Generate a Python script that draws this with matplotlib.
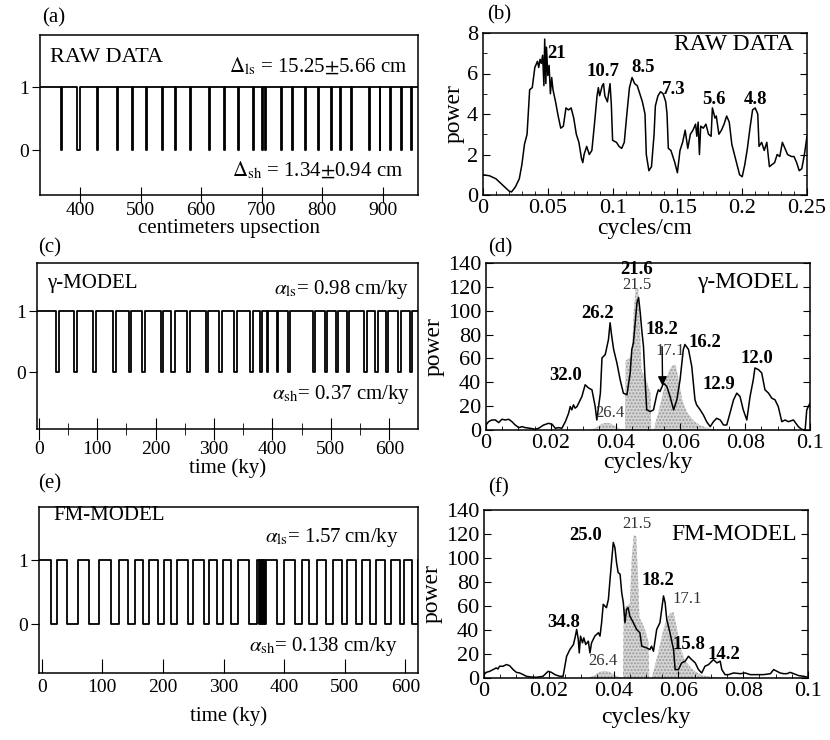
import matplotlib
matplotlib.use("Agg")
import matplotlib.pyplot as plt
from matplotlib.ticker import MultipleLocator

plt.rcParams['font.family'] = ['Liberation Serif', 'DejaVu Serif']
plt.rcParams['mathtext.fontset'] = 'stix'

# ---- (a) raw data: shale bands (start, end) in cm ----
raw_dip_start = [369, 394.5, 428, 461, 486.5, 509.5, 535, 557.5, 582, 613, 637.5, 660.5, 685.5,
                 701, 706, 732.5, 750.5, 771, 792.5, 814, 830, 848, 876.5, 894.5, 912, 930.5, 947]
raw_dip_end = [370.5, 400, 429.5, 463, 488, 511, 536.5, 559, 583.5, 614.5, 639, 662, 687,
               702.5, 707.5, 734, 752, 772.5, 794, 815.5, 831.5, 849.5, 878, 896, 913.5, 932, 948.5]

# ---- (c) gamma model: shale intervals in ky ----
gam_dip_start = [29, 60, 92, 127, 154.5, 177, 209, 227, 254.5, 286, 308.5, 334.5, 361.5, 378.5,
                 390, 407, 427, 469.5, 489.5, 508.5, 527, 557, 575, 594, 614, 635.5]
gam_dip_end = [35, 65.5, 97.5, 133, 157.5, 181.5, 212, 233, 259, 290, 313, 340, 367, 382.5,
               392.5, 410, 430, 472.5, 494, 512.5, 531, 561, 581, 598, 620, 638.5]

# ---- (e) FM model: shale intervals in ky ----
fm_dip_start = [15, 41.5, 78, 114.5, 142.5, 167, 191.5, 214, 241, 268, 289.5, 312, 342,
                359, 362.5, 365.5, 369, 389, 418, 441, 468.5, 495, 518.5, 541.5, 566.5, 591.5, 610.5]
fm_dip_end = [25, 59.5, 94.5, 127.5, 154, 177, 202, 224, 250, 276, 299.5, 324.5, 356,
              360.5, 364, 367.5, 370.5, 400, 429.5, 455, 480.5, 504.5, 528.5, 551.5, 576.5, 598.5, 620.5]

# ---- (b) raw data spectrum ----
b_freq = [0.000, 0.005, 0.010, 0.015, 0.020, 0.022, 0.025, 0.028, 0.030, 0.032, 0.034, 0.036,
          0.038, 0.040, 0.042, 0.043, 0.044, 0.045, 0.046, 0.047, 0.0476, 0.0485, 0.049, 0.050,
          0.051, 0.052, 0.053, 0.054, 0.056, 0.058, 0.060, 0.062, 0.064, 0.066, 0.068, 0.070,
          0.072, 0.074, 0.076, 0.077, 0.078, 0.080, 0.082, 0.084, 0.086, 0.088, 0.089, 0.090,
          0.092, 0.093, 0.094, 0.096, 0.098, 0.099, 0.100, 0.103, 0.105, 0.107, 0.109, 0.111,
          0.113, 0.115, 0.117, 0.119, 0.121, 0.123, 0.125, 0.126, 0.128, 0.130, 0.132, 0.133,
          0.135, 0.137, 0.139, 0.141, 0.142, 0.143, 0.145, 0.148, 0.150, 0.152, 0.154, 0.156,
          0.158, 0.160, 0.162, 0.164, 0.165, 0.166, 0.167, 0.168, 0.170, 0.172, 0.174, 0.176,
          0.177, 0.179, 0.180, 0.182, 0.184, 0.186, 0.188, 0.190, 0.192, 0.194, 0.196, 0.198,
          0.200, 0.202, 0.204, 0.206, 0.208, 0.210, 0.212, 0.213, 0.215, 0.217, 0.219, 0.221,
          0.223, 0.225, 0.227, 0.229, 0.231, 0.233, 0.235, 0.238, 0.240, 0.242, 0.244, 0.246,
          0.248, 0.250]
b_pow = [1.0, 0.95, 0.8, 0.5, 0.2, 0.15, 0.4, 0.8, 1.5, 2.5, 3.0, 5.2,
         5.3, 6.3, 6.6, 6.3, 6.7, 6.5, 6.9, 5.4, 7.7, 5.5, 7.3, 5.9,
         6.4, 5.0, 5.8, 5.2, 4.6, 3.9, 3.3, 3.4, 4.3, 4.2, 4.3, 3.8,
         3.0, 2.6, 1.8, 1.6, 2.0, 2.4, 2.0, 2.2, 3.5, 4.9, 5.3, 4.9,
         5.4, 5.5, 4.9, 4.6, 5.5, 4.5, 2.7, 2.6, 2.4, 2.3, 2.6, 4.0,
         5.3, 5.8, 5.5, 5.4, 5.0, 4.6, 4.0, 2.0, 1.2, 1.4, 3.0, 4.4,
         4.9, 5.1, 5.0, 4.6, 4.0, 2.3, 2.2, 1.6, 1.1, 2.2, 2.6, 3.2,
         2.3, 3.0, 3.2, 3.5, 2.9, 3.6, 2.0, 3.4, 3.3, 3.5, 3.0, 2.9,
         4.3, 3.8, 3.9, 3.0, 3.2, 3.5, 3.9, 3.6, 2.5, 2.0, 1.5, 1.0,
         0.9, 1.5, 2.3, 3.3, 4.2, 4.3, 4.0, 2.4, 2.6, 2.2, 2.6, 1.4,
         1.5, 1.6, 2.0, 1.9, 2.6, 2.3, 2.0, 1.9, 1.9, 1.6, 1.2, 1.3,
         2.0, 2.9]

# ---- (d) gamma model spectrum ----
d_freq = [0.0, 0.0008, 0.0018, 0.0029, 0.0039, 0.0049, 0.006, 0.007, 0.008, 0.009, 0.0101, 0.0111,
          0.0121, 0.0137, 0.0152, 0.0162, 0.0178, 0.0193, 0.0204, 0.0214, 0.0224, 0.0234, 0.0245, 0.0255,
          0.026, 0.0265, 0.027, 0.0275, 0.0281, 0.0286, 0.0296, 0.0306, 0.0317, 0.0327, 0.0337, 0.0342,
          0.0353, 0.0358, 0.0368, 0.0378, 0.0383, 0.0388, 0.0394, 0.0404, 0.0414, 0.0424, 0.0435, 0.0445,
          0.045, 0.0455, 0.0466, 0.0471, 0.0476, 0.0481, 0.0486, 0.0491, 0.0496, 0.0507, 0.0517, 0.0527,
          0.0532, 0.0537, 0.0548, 0.0558, 0.0568, 0.0579, 0.0589, 0.0599, 0.0609, 0.0614, 0.0625, 0.0635,
          0.0645, 0.065, 0.0661, 0.0671, 0.0681, 0.0692, 0.0702, 0.0712, 0.0723, 0.0733, 0.0743, 0.0753,
          0.0764, 0.0774, 0.0784, 0.0794, 0.0805, 0.0815, 0.0825, 0.083, 0.0841, 0.0851, 0.0861, 0.0872,
          0.0882, 0.0892, 0.0902, 0.0913, 0.0923, 0.0933, 0.0949, 0.0964, 0.0974, 0.0985, 0.099, 0.1]
d_pow = [4.2, 7.0, 8.4, 8.4, 6.2, 9.0, 8.4, 9.0, 7.0, 4.2, 2.0, 2.8,
         2.0, 1.4, 0.6, 1.4, 4.2, 5.6, 4.8, 1.4, 2.0, 1.4, 7.0, 14.1,
         19.7, 16.9, 21.1, 18.3, 19.7, 22.5, 28.1, 37.9, 35.1, 33.7, 19.7, 8.4,
         30.9, 60.4, 63.2, 75.9, 89.9, 78.7, 67.5, 56.2, 42.2, 30.9, 29.5, 47.8,
         67.5, 73.1, 106.8, 111.0, 98.4, 82.9, 70.3, 42.2, 16.9, 15.5, 16.9, 29.5,
         33.7, 32.3, 39.3, 36.5, 28.1, 16.9, 25.3, 42.2, 67.5, 71.7, 67.5, 53.4,
         25.3, 21.1, 16.9, 12.6, 7.0, 2.8, 7.0, 9.8, 8.4, 4.2, 4.2, 14.1,
         25.3, 30.9, 28.1, 16.9, 8.4, 28.1, 42.2, 52.0, 50.6, 47.8, 33.7, 30.9,
         26.7, 25.3, 19.7, 7.0, 8.4, 7.0, 8.4, 2.8, 0.6, 0.0, 16.9, 22.5]

# ---- (f) FM model spectrum ----
f_freq = [0.0, 0.0007, 0.0018, 0.0028, 0.0038, 0.0043, 0.0048, 0.0059, 0.0069, 0.0079, 0.009, 0.01,
          0.011, 0.0121, 0.0131, 0.0146, 0.0162, 0.0182, 0.0198, 0.0208, 0.0219, 0.0234, 0.0244, 0.0255,
          0.0265, 0.0276, 0.0281, 0.0286, 0.0291, 0.0294, 0.0298, 0.0304, 0.0308, 0.0314, 0.0322, 0.0327,
          0.0332, 0.0342, 0.0353, 0.0358, 0.0363, 0.0368, 0.0378, 0.0384, 0.0389, 0.0394, 0.0399, 0.0404,
          0.0409, 0.0414, 0.042, 0.0425, 0.043, 0.0435, 0.044, 0.0445, 0.045, 0.0461, 0.0471, 0.0481,
          0.0487, 0.0502, 0.0512, 0.0517, 0.0523, 0.0533, 0.0543, 0.0554, 0.0559, 0.0564, 0.0574, 0.0585,
          0.059, 0.06, 0.061, 0.0621, 0.0631, 0.0641, 0.0652, 0.0662, 0.0672, 0.0682, 0.0693, 0.0708,
          0.0719, 0.0729, 0.0734, 0.0744, 0.0755, 0.077, 0.0791, 0.0806, 0.0822, 0.0842, 0.0863, 0.0884,
          0.0894, 0.0904, 0.0914, 0.0925, 0.0935, 0.0945, 0.0956, 0.0971, 0.0987, 0.1]
f_pow = [2.8, 4.7, 5.6, 7.0, 8.4, 7.5, 9.8, 9.8, 11.2, 10.3, 7.0, 4.7,
         4.2, 2.8, 1.4, 0.8, 0.6, 1.4, 5.6, 4.7, 2.8, 1.4, 1.4, 18.1,
         23.7, 27.9, 33.5, 40.5, 32.1, 20.9, 34.9, 29.3, 33.5, 27.9, 30.7, 20.9,
         29.3, 34.9, 37.7, 34.9, 46.1, 61.4, 58.6, 65.6, 82.3, 97.7, 113.0, 108.8,
         96.3, 87.9, 86.5, 71.2, 62.8, 46.1, 57.2, 58.6, 51.6, 46.1, 40.5, 37.7,
         26.5, 25.1, 23.7, 26.5, 22.3, 40.5, 46.1, 68.4, 62.8, 48.8, 37.7, 23.7,
         7.0, 7.0, 12.6, 14.0, 18.1, 15.3, 12.6, 7.0, 4.2, 9.8, 11.2, 15.3,
         12.6, 14.0, 7.0, 2.8, 2.8, 4.2, 3.6, 4.2, 2.8, 2.8, 2.8, 3.6,
         7.0, 5.6, 4.2, 3.6, 3.6, 4.7, 3.6, 2.0, 1.4, 0.6]

# ---- orbital (insolation) reference spectrum, shaded in (d) and (f) ----
orb_freq = [0.0320, 0.0340, 0.0355, 0.0370, 0.0385, 0.0400, 0.0415, 0.0429, 0.0431, 0.0440, 0.0450,
            0.0456, 0.0462, 0.0470, 0.0476, 0.0480, 0.0490, 0.0500, 0.0508, 0.0510, 0.0518, 0.0525,
            0.0535, 0.0545, 0.0555, 0.0565, 0.0575, 0.0585, 0.0595, 0.0605, 0.0620, 0.0640, 0.0660,
            0.0680, 0.0700, 0.0730, 0.0760]
orb_pow = [0, 2, 5, 6, 5.5, 3, 1, 0, 58, 60, 62,
           100, 119, 118, 80, 50, 45, 38, 30, 0, 0, 8,
           18, 30, 42, 50, 54, 55, 42, 26, 15, 8, 4,
           2, 1, 0.5, 0]

W, H = 830, 740
fig = plt.figure(figsize=(W / 100, H / 100), dpi=100)


def box(l, t, r, b):
    return [l / W, 1 - b / H, (r - l) / W, (b - t) / H]


def wave(x0, x1, starts, ends):
    xs, ys = [x0], [1]
    for s, e in zip(starts, ends):
        xs += [s, s, e, e]
        ys += [1, 0, 0, 1]
    xs.append(x1)
    ys.append(1)
    return xs, ys


def wave_axes(rect, xlim, ylim, starts, ends):
    ax = fig.add_axes(rect)
    xs, ys = wave(xlim[0], xlim[1], starts, ends)
    ax.plot(xs, ys, color='k', lw=1.3)
    ax.set_xlim(*xlim)
    ax.set_ylim(*ylim)
    ax.set_yticks([0, 1])
    ax.tick_params(axis='y', direction='out', length=6, labelsize=14, pad=2)
    for s in ax.spines.values():
        s.set_linewidth(1.1)
    return ax


def spec_axes(rect, freq, pw, xlim, ylim, xmaj, xmin, ymaj, ymin):
    ax = fig.add_axes(rect)
    ax.plot(freq, pw, color='k', lw=1.1, zorder=3)
    ax.set_xlim(*xlim)
    ax.set_ylim(*ylim)
    ax.xaxis.set_major_locator(MultipleLocator(xmaj))
    ax.xaxis.set_minor_locator(MultipleLocator(xmin))
    ax.yaxis.set_major_locator(MultipleLocator(ymaj))
    ax.yaxis.set_minor_locator(MultipleLocator(ymin))
    ax.tick_params(which='both', direction='in', right=True, labelsize=16)
    ax.tick_params(which='major', length=5)
    ax.tick_params(which='minor', length=3)
    ax.tick_params(axis='x', pad=3)
    ax.set_ylabel('power', fontsize=17, labelpad=2)
    for s in ax.spines.values():
        s.set_linewidth(1.1)
    return ax


bold = dict(fontsize=13.5, fontweight='bold', ha='center', va='center')
thin = dict(fontsize=12, ha='center', va='center', color='0.2')

# (a)
ax = wave_axes(box(40, 35, 418, 195), (334, 958), (-0.71, 1.83), raw_dip_start, raw_dip_end)
ax.set_xticks([400, 500, 600, 700, 800, 900])
ax.tick_params(axis='x', direction='inout', length=12, labelsize=14, pad=-1)
ax.set_xlabel('centimeters upsection', fontsize=15, labelpad=0)
ax.text(350, 1.47, 'RAW DATA', fontsize=16, va='center')
ax.text(941, 1.33, r'$\Delta_{\rm ls}$ = 15.25$\pm$5.66 cm', fontsize=15, ha='right', va='center')
ax.text(933, -0.32, r'$\Delta_{\rm sh}$ = 1.34$\pm$0.94 cm', fontsize=15, ha='right', va='center')
fig.text(42 / W, 1 - 18 / H, '(a)', fontsize=15, va='center')

# (c)
ax = wave_axes(box(37, 263, 418, 429), (-3, 649), (-0.94, 1.80), gam_dip_start, gam_dip_end)
ax.xaxis.set_major_locator(MultipleLocator(100))
ax.xaxis.set_minor_locator(MultipleLocator(50))
ax.tick_params(axis='x', which='major', direction='inout', length=16, labelsize=14, pad=1)
ax.tick_params(axis='x', which='minor', direction='inout', length=9)
ax.set_xlabel('time (ky)', fontsize=15, labelpad=0)
ax.text(14, 1.46, 'γ-MODEL', fontsize=15, va='center')
ax.text(634, 1.36, r'$\alpha_{\rm ls}$= 0.98 cm/ky', fontsize=15, ha='right', va='center')
ax.text(636, -0.37, r'$\alpha_{\rm sh}$= 0.37 cm/ky', fontsize=15, ha='right', va='center')
fig.text(38 / W, 1 - 248 / H, '(c)', fontsize=15, va='center')

# (e)
ax = wave_axes(box(39, 507, 418, 673), (-4.5, 621), (-0.76, 1.83), fm_dip_start, fm_dip_end)
ax.xaxis.set_major_locator(MultipleLocator(100))
ax.tick_params(axis='x', direction='in', length=10, labelsize=14, pad=4)
ax.set_xlabel('time (ky)', fontsize=15, labelpad=8)
ax.text(20, 1.70, 'FM-MODEL', fontsize=15, va='center')
ax.text(590, 1.36, r'$\alpha_{\rm ls}$= 1.57 cm/ky', fontsize=15, ha='right', va='center')
ax.text(588, -0.35, r'$\alpha_{\rm sh}$= 0.138 cm/ky', fontsize=15, ha='right', va='center')
fig.text(38 / W, 1 - 484 / H, '(e)', fontsize=15, va='center')

# (b)
ax = spec_axes(box(483, 33, 807, 195), b_freq, b_pow, (0, 0.25), (0, 8), 0.05, 0.01, 2, 1)
ax.set_xticks([0, 0.05, 0.1, 0.15, 0.2, 0.25])
ax.set_xticklabels(['0', '0.05', '0.1', '0.15', '0.2', '0.25'])
ax.set_xlabel('cycles/cm', fontsize=17, labelpad=0)
ax.text(0.24, 7.45, 'RAW DATA', fontsize=17, ha='right', va='center')
for lab, x, y in [('21', 0.057, 7.0), ('10.7', 0.0925, 6.1), ('8.5', 0.1235, 6.3),
                  ('7.3', 0.1475, 5.2), ('5.6', 0.178, 4.7), ('4.8', 0.210, 4.7)]:
    ax.text(x, y, lab, **bold)
fig.text(487 / W, 1 - 15 / H, '(b)', fontsize=15, va='center')

grey = dict(facecolor='0.84', edgecolor='0.6', hatch='.....', linewidth=0, zorder=1)

# (d)
ax = spec_axes(box(486, 263, 810, 430), d_freq, d_pow, (0, 0.1), (0, 140), 0.02, 0.005, 20, 20)
ax.fill_between(orb_freq, 0, orb_pow, **grey)
ax.set_xticks([0, 0.02, 0.04, 0.06, 0.08, 0.1])
ax.set_xticklabels(['0', '0.02', '0.04', '0.06', '0.08', '0.1'])
ax.set_xlabel('cycles/ky', fontsize=17, labelpad=-1)
ax.text(0.0965, 124, 'γ-MODEL', fontsize=17, ha='right', va='center')
for lab, x, y in [('21.6', 0.0466, 134.5), ('26.2', 0.0345, 98), ('32.0', 0.0245, 46),
                  ('16.2', 0.0676, 73), ('12.9', 0.0719, 38), ('12.0', 0.0836, 60)]:
    ax.text(x, y, lab, **bold)
for lab, x, y in [('21.5', 0.0466, 121.5), ('17.1', 0.0568, 66), ('26.4', 0.0383, 14)]:
    ax.text(x, y, lab, **thin)
ax.annotate('18.2', xy=(0.0545, 37), xytext=(0.0543, 84),
            arrowprops=dict(arrowstyle='-|>', color='k', lw=1, shrinkA=4, shrinkB=0), **bold)
fig.text(488 / W, 1 - 248 / H, '(d)', fontsize=15, va='center')

# (f)
ax = spec_axes(box(484, 510, 808, 678), f_freq, f_pow, (0, 0.1), (0, 140), 0.02, 0.005, 20, 20)
ax.fill_between(orb_freq, 0, orb_pow, **grey)
ax.set_xticks([0, 0.02, 0.04, 0.06, 0.08, 0.1])
ax.set_xticklabels(['0', '0.02', '0.04', '0.06', '0.08', '0.1'])
ax.set_xlabel('cycles/ky', fontsize=17, labelpad=4)
ax.text(0.0967, 120, 'FM-MODEL', fontsize=17, ha='right', va='center')
for lab, x, y in [('25.0', 0.0313, 118.6), ('18.2', 0.0537, 81), ('34.8', 0.0246, 46),
                  ('15.8', 0.0631, 28), ('14.2', 0.0741, 19.5)]:
    ax.text(x, y, lab, **bold)
for lab, x, y in [('21.5', 0.0471, 128), ('17.1', 0.0628, 65.6), ('26.4', 0.0368, 14)]:
    ax.text(x, y, lab, **thin)
fig.text(488 / W, 1 - 488 / H, '(f)', fontsize=15, va='center')

fig.savefig('out.png', dpi=100)
